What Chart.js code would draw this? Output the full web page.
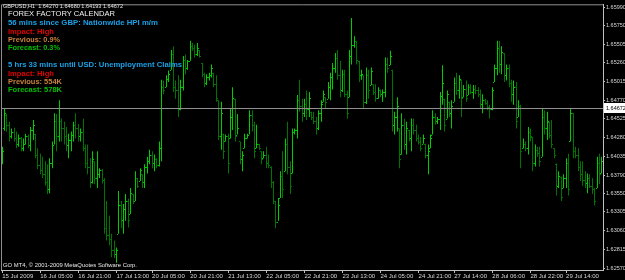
<!DOCTYPE html>
<html>
<head>
<meta charset="utf-8">
<script src="https://cdn.jsdelivr.net/npm/chart.js@4.4.1/dist/chart.umd.min.js"></script>
<style>
  html, body { margin: 0; padding: 0; background: #000; }
  #wrap { position: relative; width: 625px; height: 280px; overflow: hidden; background: #000; }
  #wrap canvas { position: absolute; left: 0; top: 0; }
  .txt { position: absolute; white-space: pre; line-height: 1; transform-origin: 0 50%;
         font-family: "Liberation Sans", Arial, sans-serif; }
</style>
</head>
<body>
<div id="wrap"><canvas id="mt4Chart" width="625" height="280"></canvas></div>
<script>
// GBPUSD H1 bars
const symbolName = "GBPUSD,H1";
const lastQuote = [1.64270, 1.64680, 1.64193, 1.64672]; // O H L C of the live bar

const opens = [
  1.6400,1.6440,1.6458,1.6445,1.6430,1.6436,1.6428,1.6420,1.6428,1.6415,
  1.6420,1.6430,1.6418,1.6438,1.6433,1.6405,1.6392,1.6385,1.6380,1.6370,
  1.6360,1.6395,1.6419,1.6450,1.6430,1.6450,1.6440,1.6430,1.6418,1.6425,
  1.6432,1.6445,1.6440,1.6430,1.6435,1.6415,1.6395,1.6390,1.6370,1.6397,
  1.6375,1.6380,1.6385,1.6372,1.6310,1.6300,1.6295,1.6280,1.6275,1.6302,
  1.6340,1.6320,1.6335,1.6345,1.6328,1.6354,1.6345,1.6375,1.6371,1.6380,
  1.6370,1.6390,1.6398,1.6405,1.6395,1.6400,1.6392,1.6415,1.6495,1.6494,
  1.6505,1.6517,1.6538,1.6495,1.6490,1.6465,1.6495,1.6530,1.6520,1.6529,
  1.6548,1.6545,1.6538,1.6543,1.6526,1.6512,1.6500,1.6508,1.6510,1.6513,
  1.6498,1.6477,1.6430,1.6433,1.6423,1.6430,1.6427,1.6455,1.6479,1.6432,
  1.6423,1.6400,1.6414,1.6428,1.6432,1.6458,1.6445,1.6414,1.6420,1.6410,
  1.6401,1.6405,1.6395,1.6390,1.6370,1.6345,1.6318,1.6349,1.6378,1.6384,
  1.6420,1.6390,1.6381,1.6435,1.6438,1.6478,1.6470,1.6460,1.6472,1.6465,
  1.6462,1.6455,1.6450,1.6440,1.6460,1.6475,1.6481,1.6479,1.6495,1.6508,
  1.6520,1.6532,1.6510,1.6490,1.6512,1.6485,1.6481,1.6535,1.6550,1.6555,
  1.6529,1.6510,1.6510,1.6475,1.6510,1.6497,1.6498,1.6488,1.6480,1.6490,
  1.6485,1.6488,1.6525,1.6523,1.6517,1.6445,1.6455,1.6440,1.6406,1.6445,
  1.6420,1.6438,1.6428,1.6445,1.6438,1.6428,1.6422,1.6420,1.6420,1.6405,
  1.6414,1.6432,1.6455,1.6450,1.6452,1.6482,1.6479,1.6453,1.6475,1.6460,
  1.6475,1.6500,1.6490,1.6504,1.6481,1.6492,1.6484,1.6495,1.6488,1.6492,
  1.6490,1.6485,1.6472,1.6478,1.6474,1.6468,1.6465,1.6501,1.6520,1.6545,
  1.6525,1.6539,1.6510,1.6520,1.6500,1.6485,1.6495,1.6455,1.6470,1.6414,
  1.6420,1.6415,1.6435,1.6429,1.6395,1.6412,1.6408,1.6403,1.6455,1.6440,
  1.6449,1.6432,1.6414,1.6394,1.6365,1.6377,1.6362,1.6375,1.6395,1.6423,
  1.6460,1.6410,1.6405,1.6390,1.6380,1.6372,1.6368,1.6375,1.6365,1.6360,
  1.6362,1.6395,1.6381
];
const highs = [
  1.6416,1.6467,1.6459,1.6449,1.6440,1.6441,1.6436,1.6432,1.6429,1.6427,
  1.6433,1.6432,1.6442,1.6451,1.6433,1.6414,1.6407,1.6403,1.6397,1.6393,
  1.6401,1.6423,1.6460,1.6459,1.6477,1.6453,1.6449,1.6442,1.6433,1.6436,
  1.6449,1.6460,1.6446,1.6440,1.6453,1.6419,1.6419,1.6401,1.6410,1.6397,
  1.6410,1.6388,1.6387,1.6375,1.6345,1.6326,1.6302,1.6293,1.6284,1.6358,
  1.6345,1.6341,1.6354,1.6348,1.6362,1.6354,1.6384,1.6375,1.6388,1.6380,
  1.6393,1.6403,1.6412,1.6410,1.6406,1.6401,1.6423,1.6504,1.6503,1.6510,
  1.6516,1.6543,1.6548,1.6503,1.6510,1.6504,1.6535,1.6537,1.6530,1.6555,
  1.6552,1.6550,1.6552,1.6543,1.6526,1.6513,1.6511,1.6513,1.6524,1.6513,
  1.6510,1.6477,1.6475,1.6433,1.6432,1.6433,1.6466,1.6494,1.6479,1.6459,
  1.6423,1.6410,1.6433,1.6433,1.6464,1.6464,1.6449,1.6445,1.6420,1.6410,
  1.6410,1.6416,1.6406,1.6390,1.6371,1.6345,1.6349,1.6384,1.6410,1.6427,
  1.6449,1.6397,1.6440,1.6440,1.6484,1.6504,1.6479,1.6479,1.6490,1.6488,
  1.6462,1.6462,1.6455,1.6464,1.6477,1.6490,1.6481,1.6501,1.6513,1.6526,
  1.6539,1.6543,1.6529,1.6517,1.6517,1.6490,1.6543,1.6585,1.6561,1.6555,
  1.6529,1.6517,1.6510,1.6520,1.6517,1.6520,1.6498,1.6498,1.6494,1.6491,
  1.6491,1.6533,1.6533,1.6542,1.6517,1.6462,1.6481,1.6440,1.6460,1.6453,
  1.6449,1.6438,1.6453,1.6453,1.6445,1.6432,1.6429,1.6432,1.6420,1.6419,
  1.6432,1.6464,1.6460,1.6455,1.6488,1.6523,1.6479,1.6490,1.6475,1.6477,
  1.6507,1.6513,1.6510,1.6504,1.6497,1.6503,1.6498,1.6498,1.6497,1.6497,
  1.6494,1.6491,1.6485,1.6479,1.6477,1.6471,1.6494,1.6524,1.6555,1.6555,
  1.6548,1.6539,1.6524,1.6524,1.6504,1.6503,1.6501,1.6477,1.6471,1.6427,
  1.6423,1.6442,1.6440,1.6429,1.6419,1.6416,1.6416,1.6466,1.6464,1.6462,
  1.6449,1.6451,1.6414,1.6394,1.6384,1.6377,1.6380,1.6401,1.6407,1.6466,
  1.6460,1.6416,1.6414,1.6397,1.6397,1.6384,1.6381,1.6380,1.6375,1.6362,
  1.6403,1.6407,1.6403
];
const lows = [
  1.6393,1.6437,1.6436,1.6423,1.6427,1.6423,1.6414,1.6416,1.6410,1.6410,
  1.6419,1.6414,1.6410,1.6425,1.6401,1.6387,1.6380,1.6375,1.6365,1.6354,
  1.6355,1.6388,1.6419,1.6410,1.6423,1.6423,1.6419,1.6410,1.6401,1.6410,
  1.6423,1.6427,1.6423,1.6423,1.6410,1.6388,1.6380,1.6362,1.6368,1.6367,
  1.6362,1.6375,1.6368,1.6302,1.6293,1.6287,1.6271,1.6270,1.6264,1.6302,
  1.6309,1.6302,1.6319,1.6310,1.6328,1.6341,1.6345,1.6362,1.6371,1.6362,
  1.6362,1.6381,1.6393,1.6388,1.6384,1.6388,1.6390,1.6397,1.6485,1.6494,
  1.6501,1.6517,1.6488,1.6479,1.6455,1.6464,1.6490,1.6511,1.6517,1.6529,
  1.6542,1.6533,1.6535,1.6533,1.6507,1.6494,1.6497,1.6503,1.6507,1.6494,
  1.6475,1.6425,1.6412,1.6400,1.6423,1.6381,1.6427,1.6438,1.6423,1.6432,
  1.6393,1.6384,1.6414,1.6427,1.6432,1.6436,1.6401,1.6414,1.6412,1.6393,
  1.6401,1.6388,1.6388,1.6362,1.6341,1.6309,1.6319,1.6349,1.6349,1.6384,
  1.6380,1.6354,1.6381,1.6432,1.6427,1.6462,1.6449,1.6455,1.6451,1.6455,
  1.6451,1.6446,1.6432,1.6438,1.6449,1.6475,1.6466,1.6479,1.6477,1.6491,
  1.6513,1.6504,1.6481,1.6488,1.6481,1.6453,1.6481,1.6524,1.6546,1.6524,
  1.6501,1.6504,1.6466,1.6472,1.6479,1.6497,1.6484,1.6475,1.6479,1.6481,
  1.6475,1.6481,1.6513,1.6523,1.6436,1.6432,1.6436,1.6388,1.6406,1.6412,
  1.6406,1.6423,1.6410,1.6432,1.6423,1.6419,1.6410,1.6420,1.6401,1.6380,
  1.6414,1.6432,1.6445,1.6446,1.6438,1.6471,1.6436,1.6453,1.6455,1.6440,
  1.6475,1.6484,1.6479,1.6455,1.6481,1.6475,1.6484,1.6485,1.6479,1.6485,
  1.6481,1.6466,1.6460,1.6471,1.6464,1.6453,1.6464,1.6501,1.6510,1.6513,
  1.6511,1.6501,1.6503,1.6494,1.6475,1.6471,1.6440,1.6455,1.6388,1.6414,
  1.6410,1.6406,1.6423,1.6384,1.6390,1.6403,1.6390,1.6403,1.6432,1.6425,
  1.6427,1.6414,1.6401,1.6352,1.6362,1.6345,1.6362,1.6362,1.6352,1.6423,
  1.6401,1.6401,1.6384,1.6371,1.6365,1.6362,1.6355,1.6362,1.6354,1.6339,
  1.6362,1.6367,1.6381
];
const closes = [
  1.6410,1.6460,1.6445,1.6430,1.6436,1.6428,1.6420,1.6428,1.6415,1.6420,
  1.6430,1.6418,1.6438,1.6445,1.6405,1.6392,1.6385,1.6380,1.6370,1.6360,
  1.6395,1.6418,1.6450,1.6430,1.6450,1.6440,1.6430,1.6418,1.6425,1.6432,
  1.6445,1.6440,1.6430,1.6435,1.6415,1.6395,1.6390,1.6370,1.6400,1.6375,
  1.6380,1.6385,1.6372,1.6310,1.6300,1.6295,1.6280,1.6275,1.6280,1.6340,
  1.6320,1.6335,1.6345,1.6320,1.6355,1.6345,1.6375,1.6365,1.6385,1.6370,
  1.6390,1.6398,1.6405,1.6395,1.6400,1.6392,1.6415,1.6495,1.6490,1.6505,
  1.6512,1.6538,1.6495,1.6490,1.6465,1.6495,1.6530,1.6520,1.6528,1.6548,
  1.6545,1.6538,1.6545,1.6535,1.6512,1.6500,1.6508,1.6510,1.6520,1.6498,
  1.6480,1.6430,1.6460,1.6410,1.6430,1.6395,1.6455,1.6480,1.6430,1.6440,
  1.6400,1.6405,1.6428,1.6432,1.6458,1.6445,1.6410,1.6420,1.6415,1.6400,
  1.6405,1.6395,1.6392,1.6370,1.6345,1.6318,1.6340,1.6378,1.6360,1.6420,
  1.6390,1.6365,1.6435,1.6438,1.6478,1.6470,1.6460,1.6472,1.6465,1.6480,
  1.6455,1.6450,1.6440,1.6460,1.6472,1.6485,1.6475,1.6495,1.6508,1.6520,
  1.6532,1.6510,1.6490,1.6512,1.6485,1.6460,1.6535,1.6550,1.6555,1.6530,
  1.6510,1.6512,1.6475,1.6510,1.6490,1.6515,1.6488,1.6480,1.6490,1.6485,
  1.6488,1.6525,1.6520,1.6535,1.6445,1.6455,1.6470,1.6400,1.6445,1.6420,
  1.6440,1.6428,1.6445,1.6438,1.6428,1.6422,1.6415,1.6428,1.6405,1.6410,
  1.6428,1.6455,1.6450,1.6452,1.6482,1.6500,1.6445,1.6485,1.6460,1.6470,
  1.6500,1.6490,1.6505,1.6480,1.6492,1.6480,1.6495,1.6488,1.6492,1.6490,
  1.6485,1.6472,1.6478,1.6474,1.6468,1.6465,1.6490,1.6520,1.6545,1.6525,
  1.6540,1.6510,1.6520,1.6500,1.6485,1.6495,1.6450,1.6470,1.6410,1.6420,
  1.6415,1.6435,1.6430,1.6395,1.6412,1.6408,1.6398,1.6455,1.6440,1.6450,
  1.6432,1.6420,1.6405,1.6365,1.6378,1.6350,1.6375,1.6395,1.6360,1.6460,
  1.6410,1.6405,1.6390,1.6380,1.6372,1.6368,1.6375,1.6365,1.6360,1.6345,
  1.6395,1.6380,1.6398
];

// time axis labels and the bar each one sits on
const timeTickIndex = [0, 16, 32, 48, 63, 79, 95, 111, 127, 143, 159, 175, 190, 206, 222, 237];
const timeTickLabels = [
  "15 Jul 2009", "16 Jul 05:00", "16 Jul 21:00", "17 Jul 13:00", "20 Jul 05:00",
  "20 Jul 21:00", "21 Jul 13:00", "22 Jul 05:00", "22 Jul 21:00", "23 Jul 13:00",
  "24 Jul 05:00", "24 Jul 21:00", "27 Jul 14:00", "28 Jul 06:00", "28 Jul 22:00",
  "29 Jul 14:00"
];
const priceTicks = [
  1.62570, 1.62815, 1.63060, 1.63305, 1.63550, 1.63790, 1.64035, 1.64280,
  1.64525, 1.64770, 1.65015, 1.65260, 1.65505, 1.65750, 1.65990
];
const priceRange = [1.62544, 1.66029];

// Forex Factory calendar indicator text
const calendarTitle = "FOREX FACTORY CALENDAR";
const calendarLines = [
  "56 mins since GBP: Nationwide HPI m/m", "Impact: High", "Previous: 0.9%", "Forecast: 0.3%",
  "5 hrs 33 mins until USD: Unemployment Claims", "Impact: High", "Previous: 554K", "Forecast: 578K"
];
const copyrightText = "GO MT4, \u00a9 2001-2009 MetaQuotes Software Corp.";

const AXIS_FONT = "'Liberation Sans', Arial, sans-serif";
const upColor = "#00cc00";
const downColor = "#007400";
const frameColor = "#8f8f8f";
const barColors = closes.map((c, i) => (c >= opens[i] ? upColor : downColor));

// open/close nubs, bid line, chart frame and the price box on the axis
const mt4Decor = {
  id: "mt4Decor",
  beforeDatasetsDraw(chart) {
    // snap the 1px bars onto whole pixels so they stay sharp like MT4
    chart.getDatasetMeta(0).data.forEach((bar) => {
      bar.x = Math.floor(bar.x) + 0.5;
    });
  },
  afterDatasetsDraw(chart) {
    const { ctx, chartArea: a, scales: { y } } = chart;
    ctx.save();
    chart.getDatasetMeta(0).data.forEach((bar, i) => {
      const px = Math.floor(bar.x);
      ctx.fillStyle = barColors[i];
      ctx.fillRect(px - 1, Math.round(y.getPixelForValue(opens[i])), 1, 1);
      ctx.fillRect(px + 1, Math.round(y.getPixelForValue(closes[i])), 1, 1);
    });
    ctx.strokeStyle = frameColor;
    ctx.lineWidth = 1;
    const by = Math.round(y.getPixelForValue(lastQuote[3])) + 0.5;
    ctx.beginPath();
    ctx.moveTo(a.left, by);
    ctx.lineTo(a.right, by);
    ctx.moveTo(a.left + 0.5, a.bottom);
    ctx.lineTo(a.left + 0.5, a.top + 0.5);
    ctx.lineTo(a.right, a.top + 0.5);
    ctx.stroke();
    ctx.restore();
  },
  afterDraw(chart) {
    const { ctx, chartArea: a, scales: { y } } = chart;
    const by = Math.round(y.getPixelForValue(lastQuote[3]));
    ctx.save();
    ctx.fillStyle = "#ffffff";
    ctx.fillRect(a.right + 1, by - 5, 24, 10);
    ctx.fillStyle = "#000000";
    ctx.font = "5.5px " + AXIS_FONT;
    ctx.textBaseline = "middle";
    ctx.fillText(lastQuote[3].toFixed(5), a.right + 3, by + 0.5);
    ctx.restore();
  },
};

new Chart(document.getElementById("mt4Chart"), {
  type: "bar",
  data: {
    labels: highs.map((_, i) => i),
    datasets: [
      {
        data: lows.map((l, i) => [l, highs[i]]),
        backgroundColor: barColors,
        barThickness: 1,
        inflateAmount: 0,
        borderWidth: 0,
      },
    ],
  },
  options: {
    responsive: false,
    animation: false,
    events: [],
    layout: { padding: { top: 1, left: 1, right: 0, bottom: 0 } },
    plugins: { legend: { display: false }, tooltip: { enabled: false } },
    scales: {
      x: {
        offset: true,
        grid: { drawOnChartArea: false, offset: false, tickLength: 3, color: "#c0c0c0" },
        border: { color: "#c0c0c0" },
        ticks: {
          autoSkip: false,
          maxRotation: 0,
          align: "start",
          padding: 0,
          color: "#d8d8d8",
          font: { family: AXIS_FONT, size: 6 },
          callback: (v, i) => timeTickLabels[i],
        },
        afterBuildTicks: (s) => { s.ticks = timeTickIndex.map((v) => ({ value: v })); },
        afterFit: (s) => { s.height = 10; },
      },
      y: {
        position: "right",
        min: priceRange[0],
        max: priceRange[1],
        grid: { drawOnChartArea: false, tickLength: 2, color: "#c0c0c0" },
        border: { color: "#c0c0c0" },
        ticks: {
          autoSkip: false,
          padding: 1,
          color: "#d8d8d8",
          font: { family: AXIS_FONT, size: 5.5 },
          callback: (v) => Number(v).toFixed(5),
        },
        afterBuildTicks: (s) => { s.ticks = priceTicks.map((v) => ({ value: v })); },
        afterFit: (s) => { s.width = 22; },
      },
    },
  },
  plugins: [mt4Decor],
});

// text overlay: quote line, calendar block, copyright
const wrap = document.getElementById("wrap");
const overlay = [
  { text: symbolName + "  " + lastQuote.map((v) => v.toFixed(5)).join(" "), x: 3, cy: 6, w: 120, size: 6, color: "#e8e8e8" },
  { text: calendarTitle, x: 8, cy: 14, w: 107, size: 8, color: "#f0f0f0" },
  { text: calendarLines[0], x: 8, cy: 22.5, w: 150, size: 7, color: "#1aa0e6", bold: true },
  { text: calendarLines[1], x: 8, cy: 31, w: 46, size: 7, color: "#e00000", bold: true },
  { text: calendarLines[2], x: 8, cy: 39, w: 52, size: 7, color: "#c8803c", bold: true },
  { text: calendarLines[3], x: 8, cy: 47, w: 52, size: 7, color: "#00c000", bold: true },
  { text: calendarLines[4], x: 8, cy: 64.5, w: 174, size: 7, color: "#1aa0e6", bold: true },
  { text: calendarLines[5], x: 8, cy: 73, w: 46, size: 7, color: "#e00000", bold: true },
  { text: calendarLines[6], x: 8, cy: 81, w: 54, size: 7, color: "#c8803c", bold: true },
  { text: calendarLines[7], x: 8, cy: 89, w: 54, size: 7, color: "#00c000", bold: true },
  { text: copyrightText, x: 3, cy: 265, w: 134, size: 6, color: "#e8e8e8" },
];
overlay.forEach((l) => {
  const d = document.createElement("div");
  d.className = "txt";
  d.textContent = l.text;
  d.style.left = l.x + "px";
  d.style.top = l.cy - l.size / 2 + "px";
  d.style.fontSize = l.size + "px";
  d.style.fontWeight = l.bold ? "bold" : "normal";
  d.style.color = l.color;
  wrap.appendChild(d);
  const natural = d.getBoundingClientRect().width;
  d.style.transform = "scaleX(" + (l.w / natural).toFixed(3) + ")";
});
</script>
</body>
</html>
